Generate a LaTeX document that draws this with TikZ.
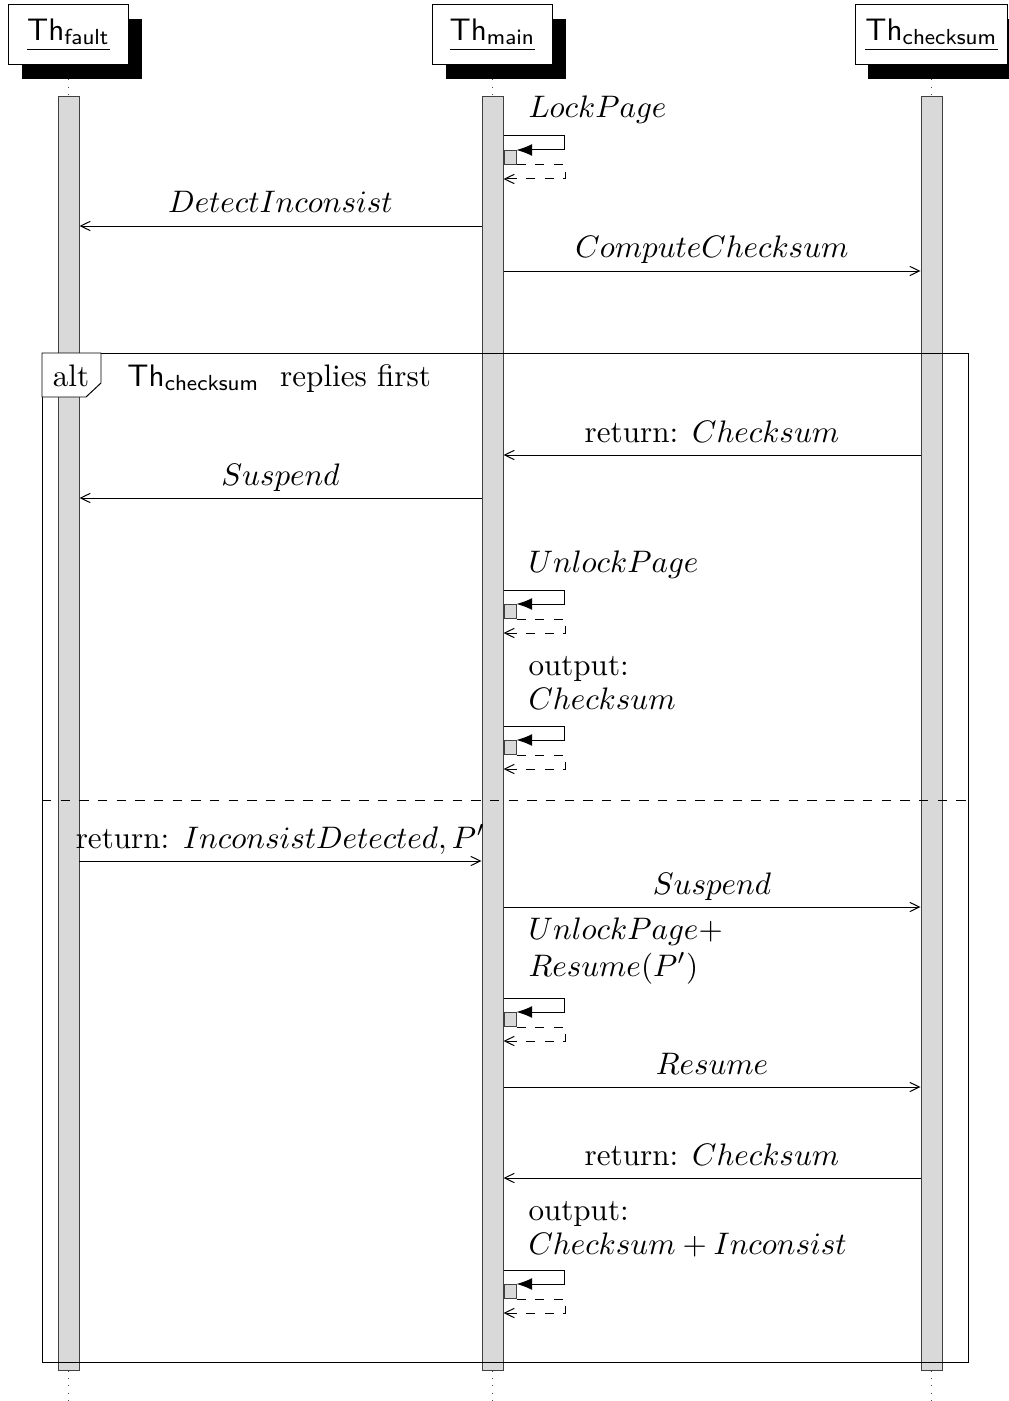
\documentclass[tikz,border=0pt]{standalone}
\usetikzlibrary{arrows.meta,shadows}
% one drawing unit of the coordinates below
\newcommand\upx{0.3215pt}
\tikzset{
  x=0.3215pt, y=-0.3215pt,
  instbox/.style={draw, fill=white, font=\sffamily, minimum width=120*\upx,
    minimum height=60*\upx, inner xsep=3.33pt,
    drop shadow={fill=black, opacity=1, shadow xshift=13*\upx, shadow yshift=-14*\upx}},
  thread/.style={draw=black!75, fill=black!15, minimum width=21*\upx,
    minimum height=1274*\upx, inner sep=0pt, anchor=north},
  actbox/.style={draw=black!75, fill=black!15, minimum width=12*\upx,
    minimum height=14*\upx, inner sep=0pt, anchor=north west},
  lifeline/.style={dotted, black!70},
  msg/.style={-{Straight Barb[length=3.1pt,width=3pt]}},
  msglabel/.style={anchor=base, inner sep=0pt, yshift=13*\upx},
  calllabel/.style={anchor=base west, inner sep=0pt},
  callarrow/.style={-{Latex[length=5pt,width=3.8pt]}},
  retarrow/.style={dashed, -{Straight Barb[length=3.1pt,width=3pt]}},
}
\begin{document}
\begin{tikzpicture}[line width=0.32pt]
\useasboundingbox (0,0) rectangle (1009,1401);
\clip (0,0) rectangle (1009,1401);

% threads and their lifelines
\node[instbox] (instF) at (68.5,35) {\underline{Th\textsubscript{fault}}};
\node[instbox] (instM) at (492.5,35) {\underline{Th\textsubscript{main}}};
\node[instbox] (instC) at (931.5,35) {\underline{Th\textsubscript{checksum}}};

\node[thread] (barF) at (68.5,96) {};
\node[thread] (barM) at (492.5,96) {};
\node[thread] (barC) at (931.5,96) {};

\coordinate (endF) at (68.5,1401);
\coordinate (endM) at (492.5,1401);
\coordinate (endC) at (931.5,1401);
\foreach \i/\b/\e in {instF/barF/endF, instM/barM/endM, instC/barC/endC}{
  \draw[lifeline] ([yshift=-14*\upx]\i.south) -- (\b.north);
  \draw[lifeline] (\b.south) -- (\e);
}

% LockPage
\node[calllabel] (lblLock) at (528,118) {$LockPage$};
\node[actbox] (act1) at (barM.east |- 0,150) {};
\draw[callarrow] (barM.east |- 0,136) -- ++(61,0) |- (act1.north east);
\draw[retarrow] (act1.south east) -- ++(49,0) |- (barM.east |- 0,179);

\draw[msg] (barM.west |- 0,226) -- (barF.east |- 0,226)
  node[msglabel, midway] (lblDetect) {$DetectInconsist$};
\draw[msg] (barM.east |- 0,271) -- (barC.west |- 0,271)
  node[msglabel, midway] (lblCompute) {$ComputeChecksum$};

% combined fragment
\coordinate (frameNW) at (42,353);
\coordinate (frameSE) at (968,1362);
\draw (frameNW) rectangle (frameSE);
\draw[fill=white] (frameNW) -- ++(59,0) -- ++(0,30) -- ++(-15,14) -- ++(-44,0) -- cycle;
\node[anchor=base, inner sep=0pt] (altTag) at (71,386) {alt};
\node[anchor=base west, inner sep=0pt] (altCond) at (127,386)
  {{\sffamily Th\textsubscript{checksum}}\hspace{3.3pt} replies first};
\draw[dashed] (frameNW |- 0,800) -- (frameSE |- 0,800);

% first operand
\draw[msg] (barC.west |- 0,455) -- (barM.east |- 0,455)
  node[msglabel, midway] (lblRet1) {return: $Checksum$};
\draw[msg] (barM.west |- 0,498) -- (barF.east |- 0,498)
  node[msglabel, midway] (lblSusp1) {$Suspend$};

\node[calllabel] (lblUnlock) at (528,572) {$UnlockPage$};
\node[actbox] (act2) at (barM.east |- 0,604) {};
\draw[callarrow] (barM.east |- 0,590) -- ++(61,0) |- (act2.north east);
\draw[retarrow] (act2.south east) -- ++(49,0) |- (barM.east |- 0,633);

\node[calllabel] (lblOut1a) at (528,675) {output:};
\node[calllabel] (lblOut1b) at (528,709) {$Checksum$};
\node[actbox] (act3) at (barM.east |- 0,740) {};
\draw[callarrow] (barM.east |- 0,726) -- ++(61,0) |- (act3.north east);
\draw[retarrow] (act3.south east) -- ++(49,0) |- (barM.east |- 0,769);

% second operand
\draw[msg] (barF.east |- 0,861) -- (barM.west |- 0,861)
  node[msglabel, midway] (lblRet2) {return: $InconsistDetected, P'$};
\draw[msg] (barM.east |- 0,907) -- (barC.west |- 0,907)
  node[msglabel, midway] (lblSusp2) {$Suspend$};

\node[calllabel] (lblResA) at (528,939) {$UnlockPage+$};
\node[calllabel] (lblResB) at (528,976) {$Resume(P')$};
\node[actbox] (act4) at (barM.east |- 0,1012) {};
\draw[callarrow] (barM.east |- 0,998) -- ++(61,0) |- (act4.north east);
\draw[retarrow] (act4.south east) -- ++(49,0) |- (barM.east |- 0,1041);

\draw[msg] (barM.east |- 0,1087) -- (barC.west |- 0,1087)
  node[msglabel, midway] (lblResume) {$Resume$};
\draw[msg] (barC.west |- 0,1178) -- (barM.east |- 0,1178)
  node[msglabel, midway] (lblRet3) {return: $Checksum$};

\node[calllabel] (lblOut2a) at (528,1220) {output:};
\node[calllabel] (lblOut2b) at (528,1254) {$Checksum + Inconsist$};
\node[actbox] (act5) at (barM.east |- 0,1284) {};
\draw[callarrow] (barM.east |- 0,1270) -- ++(61,0) |- (act5.north east);
\draw[retarrow] (act5.south east) -- ++(49,0) |- (barM.east |- 0,1313);
\end{tikzpicture}
\end{document}
